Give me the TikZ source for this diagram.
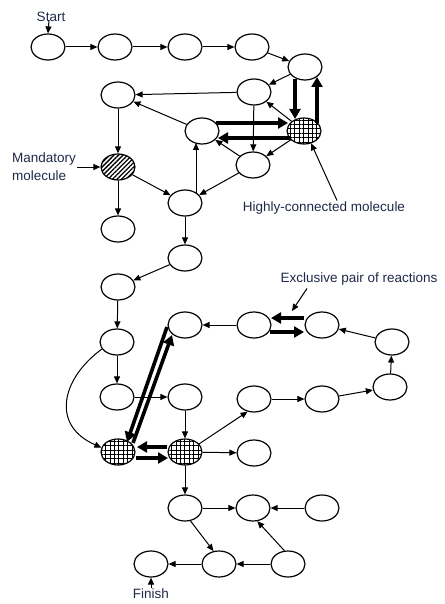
\documentclass[tikz,border=0pt]{standalone}
\usepackage{fontspec}
\setmainfont{Liberation Sans}
\usetikzlibrary{shapes.geometric,arrows.meta,patterns.meta,calc}
\definecolor{labelcol}{RGB}{33,41,74}
\begin{document}
\begin{tikzpicture}[x=1pt,y=-1pt,
  mol/.style={ellipse,draw,line width=1.2pt,minimum width=34pt,minimum height=26pt,inner sep=0pt},
  gridmol/.style={mol,pattern={Hatch[angle=0,distance=4.4pt,line width=0.9pt]}},
  stripemol/.style={mol,pattern={Lines[angle=45,distance=3.2pt,line width=1.3pt]}},
  arr/.style={line width=1pt,-{Triangle[length=7pt,width=6pt]}},
  thickarr/.style={line width=3.6pt,-{Triangle[length=10pt,width=11pt]}},
  lbl/.style={text=labelcol,font=\fontsize{13.5}{18}\selectfont,inner sep=1pt}
]
\useasboundingbox[fill=white] (0,0) rectangle (444,604);

% nodes
\node[mol] (S1) at (48,47) {};
\node[mol] (A2) at (115,47) {};
\node[mol] (A3) at (185,47) {};
\node[mol] (A4) at (252,47) {};
\node[mol] (A5) at (305,67) {};
\node[mol] (B1) at (118,95) {};
\node[mol] (B2) at (254,92) {};
\node[mol] (C1) at (202,131) {};
\node[gridmol] (H1) at (304,131) {};
\node[mol] (C2) at (253,165) {};
\node[stripemol] (M) at (118,167) {};
\node[mol] (D1) at (118,229) {};
\node[mol] (D2) at (185,203) {};
\node[mol] (E1) at (185,258) {};
\node[mol] (E2) at (118,287) {};
\node[mol] (E3) at (117,342) {};
\node[mol] (F1) at (185,325) {};
\node[mol] (F2) at (254,325) {};
\node[mol] (F3) at (322,325) {};
\node[mol] (F4) at (392,342) {};
\node[mol] (F5) at (390,387) {};
\node[mol] (G0) at (117,397) {};
\node[mol] (G1) at (185,397) {};
\node[mol] (G2) at (254,399) {};
\node[mol] (G3) at (322,399) {};
\node[gridmol] (X1) at (118,452) {};
\node[gridmol] (X2) at (185,452) {};
\node[mol] (Hn) at (254,453) {};
\node[mol] (I1) at (185,508) {};
\node[mol] (I2) at (253,508) {};
\node[mol] (I3) at (322,508) {};
\node[mol] (J1) at (151,564) {};
\node[mol] (J2) at (219,564) {};
\node[mol] (J3) at (288,564) {};

% labels
\node[lbl] (startlabel) at (51,17) {Start};
\node[lbl] (finlabel) at (151,594) {Finish};
\node[lbl,align=left,anchor=west] (mandlabel) at (11,167) {Mandatory\\molecule};
\node[lbl] (hclabel) at (324,208) {Highly-connected molecule};
\node[lbl] (exlabel) at (359,279) {Exclusive pair of reactions};
\coordinate (extip) at (292,311);

% thin connectors
\draw[arr] (S1) -- (A2);
\draw[arr] (A2) -- (A3);
\draw[arr] (A3) -- (A4);
\draw[arr] (A4) -- (A5);
\draw[arr] (A5) -- (B2);
\draw[arr] (B2) -- (B1);
\draw[arr] (C1) -- (B1);
\draw[arr] (B1) -- (M);
\draw[arr] (H1) -- (B2);
\draw[arr] (B2) -- (C2);
\draw[arr] (H1) -- (C2);
\draw[arr] (C2) -- (C1);
\draw[arr] (C2) -- (D2);
\draw[arr] ($(D2)+(11,-10)$) -- ($(C1)+(-6,12)$);
\draw[arr] (M) -- (D2);
\draw[arr] (M) -- (D1);
\draw[arr] (D2) -- (E1);
\draw[arr] (E1) -- (E2);
\draw[arr] (E2) -- (E3);
\draw[arr] (E3) -- (G0);
\draw[arr] (E3.205) .. controls (62,378) and (50,425) .. (X1.165);
\draw[arr] (G0) -- (G1);
\draw[arr] (G1) -- (X2);
\draw[arr] (X2) -- (Hn);
\draw[arr] (X2.30) -- (G2.243);
\draw[arr] (G2) -- (G3);
\draw[arr] (G3) -- (F5);
\draw[arr] (F5) -- (F4);
\draw[arr] (F4) -- (F3);
\draw[arr] (F2) -- (F1);
\draw[arr] (X2) -- (I1);
\draw[arr] (I1) -- (I2);
\draw[arr] (I3) -- (I2);
\draw[arr] (I1.-67) -- (J2.113);
\draw[arr] (J3.105) -- (I2.-72);
\draw[arr] (J3) -- (J2);
\draw[arr] (J2) -- (J1);

% label pointers
\draw[arr] ($(startlabel)+(-2,3)$) -- (S1.north);
\draw[arr] (finlabel.north) -- (J1.south);
\draw[arr] (mandlabel.east) -- (M.west);
\draw[arr] ($(hclabel.north)+(13,0)$) -- (H1.-60);
\draw[arr] ($(exlabel.south)+(-52,2)$) -- (extip);

% thick connectors
\draw[thickarr] ($(C1)+(14,-8)$) -- ($(H1)+(-16,-8)$);
\draw[thickarr] ($(H1)+(-14,7)$) -- ($(C1)+(16,7)$);
\draw[thickarr] ($(A5)+(-10,12)$) -- ($(H1)+(-9,-12)$);
\draw[thickarr] ($(H1)+(13,-8)$) -- ($(A5)+(12,10)$);
\draw[thickarr] ($(F3)+(-18,-7)$) -- ($(F2)+(17,-7)$);
\draw[thickarr] ($(F2)+(16,7)$) -- ($(F3)+(-18,7)$);
\draw[thickarr] ($(X2)+(-18,-5)$) -- ($(X1)+(19,-5)$);
\draw[thickarr] ($(X1)+(18,6)$) -- ($(X2)+(-17,6)$);
\draw[thickarr] ($(F1)+(-18,2)$) -- ($(X1)+(9,-10)$);
\draw[thickarr] ($(X1)+(15,-9)$) -- ($(F1)+(-13,10)$);
\end{tikzpicture}
\end{document}
